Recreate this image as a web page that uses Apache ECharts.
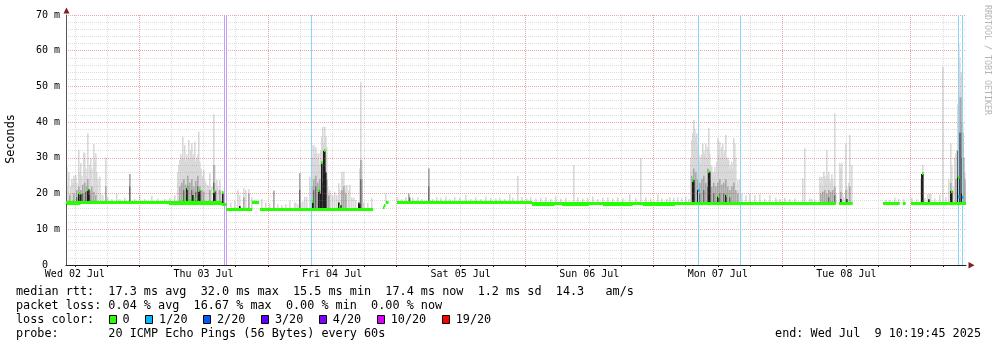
<!DOCTYPE html>
<html><head><meta charset="utf-8">
<script src="https://cdn.jsdelivr.net/npm/echarts@6/dist/echarts.min.js"></script>
<style>html,body{margin:0;padding:0;background:#fff}#c{width:997px;height:347px}</style>
</head><body><div id="c"></div>
<script>
// time unit: hours since Wed 02 Jul 2025 00:00 (local)
const START_H = 10.3292, END_H = 178.3292;   // Jul 2 10:19:45 .. Jul 9 10:19:45
const dayLabels = ['Wed 02 Jul','Thu 03 Jul','Fri 04 Jul','Sat 05 Jul','Sun 06 Jul','Mon 07 Jul','Tue 08 Jul'];
const dayLabelHours = [12,36,60,84,108,132,156];
const majorGridHours = [24,48,72,96,120,144,168];
const minorGridHours = [12,18,30,36,42,54,60,66,78,84,90,102,108,114,126,132,138,150,156,162,174];
const yMax = 70, yStep = 10;

const lossColors = ['#26ff00','#00b8ff','#0059ff','#5e00ff','#7e00ff','#dd00ff','#ff0000'];
const lossLabels = ['0','1/20','2/20','3/20','4/20','10/20','19/20'];
const lossLineColors = {1:'#88d6f8', 4:'#c29ef5'};

// median rtt segments [from h, to h, ms, loss level index]
const medianLine = [
 [10.33,39.45,17.4,0],[39.45,40.25,16.9,0],[40.25,45.14,15.6,0],[45.14,46.45,17.5,0],
 [46.45,67.58,15.5,0],[69.45,69.69,16.0,0],[69.69,69.97,16.6,0],[69.97,70.44,17.4,0],
 [72.06,97.26,17.4,0],[97.26,126.8,17.2,0],[126.8,154.01,17.3,0],[154.68,157.18,17.3,0],
 [162.89,166.01,17.3,0],[166.62,167.13,17.3,0],[168.01,178.33,17.3,0]
];
const medianExtra = [
 [10.5,13,17.1,0],[29.5,39.4,17.1,0],[97.3,101.5,17.0,0],[103,108,17.0,0],[110.5,116,17.0,0],[118,124,17.0,0],
 [127,137,17.1,0],[151.1,154.0,17.1,0],[154.7,157.2,17.1,0],[168.0,169.0,17.1,0],[175.3,178.3,17.1,0],
 [32.4,32.6,18.5,0],[33.3,33.5,18.2,0],[34.2,34.4,18.6,0],
 [12.81,13.0,19.9,0],[14.34,14.53,21.2,0],[32.86,33.05,21.5,0],[35.03,35.22,20.8,0],[37.86,38.05,20.5,0],
 [39.45,39.64,20.2,0],[56.34,56.53,17.8,0],[57.46,57.65,21.0,0],[58.02,58.21,28.6,0],[58.40,58.59,32.0,0],
 [61.2,61.4,16.5,0],[127.24,127.43,23.8,0],[128.21,128.40,21.0,1],[130.23,130.42,26.1,0],[131.95,132.14,19.1,0],
 [133.44,133.63,19.6,0],[170.06,170.25,25.5,0],[175.44,175.63,20.7,0],[176.79,176.98,24.4,0],
 [176.8,176.99,19.3,1],[177.6,177.79,18.8,1]
];

// smoke (ping spread) tops [h, ms]
const smokeLight = [
 [10.52,27.5],[10.70,22],[10.89,26],[11.08,20],[11.27,22],[11.45,24],[11.64,23],[11.82,25],[12.01,24],[12.20,25.2],[12.38,23],[12.66,32.2],[12.94,26],[13.13,28.5],[13.32,25],[13.60,31.5],[13.88,31.3],[14.06,27],[14.25,25],[14.49,36.9],[14.72,28],[14.90,30],[15.09,27],[15.43,33.9],[15.65,29],[15.93,31.3],[16.12,26],[16.30,24],[16.55,24.7],[16.86,20],[17.24,19.5],[17.80,30],[18.17,19],[18.92,18.5],[19.79,19.9],[20.41,18.5],[21.34,18.8],[22.28,25.5],[23.21,18.5],[24.14,19.6],[25.08,18.5],[26.33,19.3],[27.50,18.6],[28.81,18.5],[29.74,18.8],[30.68,19.5],
 [31.24,26],[31.43,28],[31.52,29.4],[31.80,31],[31.98,30],[32.11,35.9],[32.36,30],[32.54,33.6],[32.70,29],[32.82,31],[33.00,30],[33.16,35],[33.38,30],[33.57,32],[33.79,34.1],[33.95,30],[34.04,29],[34.22,31],[34.41,34.5],[34.55,29],[34.69,30],[34.85,31],[35.03,37.3],[35.25,29],[35.40,27],[35.53,26.6],[35.67,24],[35.81,25],[35.95,24],[36.09,26.6],[36.23,24],[36.37,23],[36.6,21],[36.84,22.4],[37.03,22],[37.21,25.7],[37.40,21],[37.58,22],[37.88,42.2],[38.14,28],[38.30,23],[38.46,23.8],[38.70,22],[38.90,21],[39.08,23.8],[39.25,21],[39.40,20.5],[39.64,19.5],
 [41.13,17.5],[41.88,18],[42.38,21],[42.81,19.6],[43.43,21.5],[43.93,21],[44.44,21.2],[44.99,19],[45.33,18.2],[45.61,18.2],[46.92,18.5],[47.66,17.5],[48.41,17.2],[49.16,20.8],[49.90,17],[50.65,16.8],[51.40,17],[52.14,18],[53.08,17.5],[53.64,17],
 [53.26,17.5],[54.20,17.5],[54.57,17.8],[54.94,19.1],[55.32,19],[55.75,24.7],[55.97,22],[56.19,33.6],[56.34,30],[56.53,33.6],[56.72,31],[56.90,33],[57.13,31.3],[57.37,30],[57.56,31.3],[57.74,28],[57.90,32],[58.06,35.9],[58.21,38.7],[58.40,34],[58.55,36],[58.68,38.7],[58.86,36],[59.05,33],[59.29,21.9],[59.52,21],[59.80,20],[60.17,19.5],[60.55,20.5],[60.92,19.5],[61.16,22.9],[61.48,21],[61.80,26.1],[62.04,24],[62.23,26.1],[62.41,22.4],[62.60,21],[62.78,22.4],[63.06,21],[63.34,22.4],[63.72,19],[64.09,18.8],[64.46,18.2],[65.12,27],[65.30,51.3],[65.58,29.4],[65.96,17.5],[66.70,17.5],[67.39,18.8],[70.01,20],
 [72.30,19],[73.05,18.5],[73.80,19],[75.11,18.8],[76.04,19],[76.79,18.5],[77.96,27.1],[78.84,18.5],[79.59,19],[80.33,18.8],[81.26,19.2],[82.01,18.5],[82.94,19],[83.88,18.8],[85.00,19.6],[85.93,18.5],[86.87,19],[87.80,18.5],[88.73,19.2],[89.67,18.8],[90.60,18.6],[91.34,19],[92.28,18.5],[93.08,19.8],[93.77,18.8],[94.58,24.9],[95.45,19],[96.38,18.6],[97.13,19],
 [98.06,18.6],[99.00,18.8],[99.93,19],[100.86,18.5],[101.80,19.2],[102.73,18.6],[103.67,18.8],[105.03,28],[105.91,19],[106.84,18.6],[107.77,18.8],[108.71,19.2],[109.64,18.5],[110.57,18.8],[111.51,19],[112.44,18.6],[113.37,19],[114.31,18.7],[115.48,19.8],[116.73,18.8],[117.67,29.9],[118.60,19],[119.54,18.6],[120.79,19.8],[121.59,18.7],[122.52,18.5],[123.08,19],[123.83,18.8],[124.57,19],[125.32,18.7],[126.06,19.1],[126.62,18.5],
 [126.99,30],[127.18,35],[127.32,37],[127.46,40.6],[127.60,39],[127.74,38],[127.88,36],[128.02,36.9],[128.16,34],[128.30,33],[128.44,31],[128.58,30.3],[128.72,29],[128.86,28],[129.00,31],[129.14,34],[129.28,30],[129.42,32],[129.56,31],[129.70,34],[129.84,29],[129.98,30],[130.12,33],[130.26,38.3],[130.40,32],[130.54,31],[130.68,28],[130.82,27.5],[130.96,26],[131.10,25],[131.24,26],[131.38,27.5],[131.52,25],[131.66,26],[131.80,29],[131.91,35.5],[132.02,30],[132.13,30],[132.27,31],[132.41,34.5],[132.57,30],[132.73,33],[132.85,31],[132.97,34],[133.11,30],[133.25,32],[133.39,29],[133.53,36.4],[133.67,30],[133.81,30],[133.95,27],[134.09,29.4],[134.23,27],[134.37,28],[134.51,26],[134.65,29],[134.79,27],[134.93,35.5],[135.07,31],[135.21,34],[135.40,30],[135.64,23.8],[135.96,21],[136.14,24],[136.52,20],[137.26,19.5],[138.01,20],[138.94,19.5],[139.88,19.8],[140.81,18.5],[141.75,19.6],[142.87,18.8],[143.61,18.5],[144.55,18.8],[145.48,18.5],[146.42,18.6],
 [147.90,24.3],[148.28,32.7],[149.21,18.7],[149.59,18.5],[150.15,18.3],[151.08,24.7],[151.27,23],[151.45,24.7],[151.58,22],[151.70,26.1],[151.92,25],[152.10,24],[152.33,32.2],[152.48,25],[152.63,26.1],[152.85,24],[153.05,23],[153.26,25.4],[153.40,22],[153.51,24],[153.75,42.5],[154.07,20],[154.81,28.5],[154.95,27],[155.09,28.5],[155.37,20],[155.60,19],[155.93,34],[156.10,22],[156.31,21],[156.50,23],[156.68,36.4],[157.00,28],
 [163.40,18.3],[164.15,18.2],[165.08,18.8],[165.83,18.5],[166.76,18.4],[168.25,18.8],[169.19,18.4],[169.93,24],[170.21,28],[170.68,18.8],[171.24,19.8],[171.61,20],[171.80,19.9],[172.55,18.6],[173.35,19.7],[174.04,55.5],[174.60,19],[175.16,24],[175.44,34],[175.72,28],[176.00,22],[176.28,30],[176.47,31.3],[176.66,32],[176.85,45],[177.03,62],[177.22,58],[177.41,53.7],[177.60,54],[177.78,40],[178.02,26],[178.25,22.9]
];
const smokeMid = [
 [11.08,19.5],[11.82,20],[12.38,21],[12.76,22],[13.13,21],[13.50,22.5],[13.88,23],[14.16,22],[14.44,24],[14.81,21],[15.18,22],[15.56,20.5],[15.93,19.5],[17.80,22],[22.28,25.5],
 [31.61,22],[31.98,23],[32.36,24],[32.73,22.5],[33.10,25],[33.48,23],[33.85,24],[34.22,22],[34.60,23.5],[34.97,25],[35.34,22],[35.72,21],[36.09,20.5],[37.21,21],[37.88,28],[38.33,21],[39.08,21],
 [43.43,19],[44.44,20],[49.16,20.8],
 [53.88,25.7],[56.25,22],[56.62,24],[57.00,25],[57.37,23],[57.74,24],[58.06,27],[58.30,28],[58.68,27],[59.05,24],[59.42,19.5],[61.85,21],[62.23,22],[62.60,20],[65.30,29.4],[65.49,24],
 [74.41,20],[77.96,27],
 [127.18,25],[127.56,27],[127.93,26],[128.30,24],[128.68,23],[129.05,24],[129.42,25],[129.80,23],[130.17,27],[130.54,24],[130.92,22],[131.29,23],[131.66,22],[132.04,23],[132.41,24],[132.78,22.5],[133.16,23],[133.53,24],[133.90,22],[134.28,21],[134.65,22],[135.02,23],[135.40,21],[135.77,20],
 [151.27,20],[151.64,20.5],[152.01,21],[152.39,20],[152.76,21],[153.13,20.5],[153.51,21],[153.75,22],[155.00,20.5],[155.93,21],[156.68,22],
 [170.12,22],[175.44,23],[176.37,24],[176.75,32],[177.03,47],[177.31,47],[177.50,40],[177.69,37],[177.87,30],[178.06,24]
];
const smokeDark = [
 [12.38,19],[13.50,20],[14.06,20.5],[14.81,19.5],[22.28,22],[32.36,21],[33.10,22],[33.85,21],[34.60,20.5],[34.97,22],[37.88,23],
 [53.88,21],[56.62,21],[57.00,22],[57.74,21],[58.30,23],[58.68,24],[65.30,24],[74.41,19],[77.96,22],
 [127.56,23],[128.68,20],[129.42,21],[130.17,22],[131.29,20],[132.41,20],[133.16,20],[134.28,19],[152.76,19],[153.75,19.5],
 [176.85,32],[177.13,37],[177.41,37],[177.60,30]
];
const smokeBlack = [
 [12.81,19.9],[13.00,19.9],[14.34,21.2],[14.53,21.2],[32.86,21.5],[33.98,19.6],[35.03,20.8],[35.22,20.8],[37.86,20.5],[38.05,20.5],[39.51,20.2],
 [42.85,16.5],[56.34,18],[57.46,21],[57.84,20],[58.02,28.6],[58.40,32.0],[58.58,32.0],[58.77,26],[61.20,17.5],[61.67,16.8],[64.93,17.5],[65.12,17],
 [127.24,23.8],[127.43,23.8],[128.21,21],[130.23,26.1],[130.42,26.1],[131.95,19.1],[133.44,19.6],[155.00,18.5],[156.03,18.5],
 [170.06,25.5],[170.25,25.5],[171.43,18.4],[175.44,20.7],[175.59,20.7],[176.79,24.4],[176.98,24.4],[177.50,20]
];
// packet loss events [h, loss level index]
const lossEvents = [[39.82,4],[40.20,4],[56.06,1],[128.40,1],[136.24,1],[176.90,1],[177.65,1]];

const statsRtt = 'median rtt:  17.3 ms avg  32.0 ms max  15.5 ms min  17.4 ms now  1.2 ms sd  14.3   am/s';
const statsLoss = 'packet loss: 0.04 % avg  16.67 % max  0.00 % min  0.00 % now';
const lossTitle = 'loss color:';
const probeText = 'probe:       20 ICMP Echo Pings (56 Bytes) every 60s';
const endText = 'end: Wed Jul  9 10:19:45 2025';
const yTitle = 'Seconds';
const watermark = 'RRDTOOL / TOBI OETIKER';

function baseAt(t){
  let best = medianLine[0][2], bd = 1e9;
  for (const s of medianLine){
    if (t >= s[0] && t <= s[1]) return s[2];
    const d = Math.min(Math.abs(t-s[0]), Math.abs(t-s[1]));
    if (d < bd){ bd = d; best = s[2]; }
  }
  return best;
}
function smokeRender(color, wH){
  return function(params, api){
    const t = api.value(0), hi = api.value(1), lo = baseAt(t);
    const a = api.coord([t, hi]), b = api.coord([t, lo]);
    const w = Math.max(1, api.size([wH, 0])[0]);
    return {type:'rect', shape:{x:Math.round(a[0]-w/2), y:a[1], width:w, height:Math.max(1,b[1]-a[1])}, style:{fill:color}};
  };
}
function medianRender(params, api){
  const p0 = api.coord([api.value(0), api.value(2)]);
  const p1 = api.coord([api.value(1), api.value(2)]);
  return {type:'rect', shape:{x:Math.round(p0[0]), y:Math.round(p0[1]-1.5), width:Math.max(1.5, p1[0]-p0[0]), height:3}, style:{fill:lossColors[api.value(3)]}};
}

const MONO = '"DejaVu Sans Mono", monospace';
const gridDash = [1,1];
const graphics = [];
const lineY = [291.5, 305.5, 319.5, 333.5];
const F = '11.8px ' + MONO;
graphics.push({type:'text', x:16, y:lineY[0], style:{text:statsRtt, font:F, fill:'#000', verticalAlign:'middle'}});
graphics.push({type:'text', x:16, y:lineY[1], style:{text:statsLoss, font:F, fill:'#000', verticalAlign:'middle'}});
graphics.push({type:'text', x:16, y:lineY[2], style:{text:lossTitle, font:F, fill:'#000', verticalAlign:'middle'}});
graphics.push({type:'text', x:16, y:lineY[3], style:{text:probeText, font:F, fill:'#000', verticalAlign:'middle'}});
graphics.push({type:'text', x:981, y:lineY[3], style:{text:endText, font:F, fill:'#000', align:'right', verticalAlign:'middle'}});
let bx = 108.5; const CH = 7.1;
lossLabels.forEach((lab, i) => {
  graphics.push({type:'rect', shape:{x:Math.round(bx)+0.5, y:315.5, width:7, height:8}, style:{fill:lossColors[i], stroke:'#000', lineWidth:1}});
  const lx = bx + 14;
  graphics.push({type:'text', x:lx, y:lineY[2], style:{text:lab, font:F, fill:'#000', verticalAlign:'middle'}});
  bx = lx + lab.length*CH + 15.5;
});
graphics.push({type:'text', x:11, y:139, rotation:Math.PI/2, style:{text:yTitle, font:F, fill:'#000', align:'center', verticalAlign:'middle'}});
graphics.push({type:'text', x:987.5, y:60, rotation:-Math.PI/2, style:{text:watermark, font:'8.3px '+MONO, fill:'#b4b4b4', align:'center', verticalAlign:'middle'}});
graphics.push({type:'polygon', shape:{points:[[63.5,13.5],[69.5,13.5],[66.5,7.5]]}, style:{fill:'#7f1f1f'}});
graphics.push({type:'polygon', shape:{points:[[968.5,262],[968.5,268.5],[974.5,265.2]]}, style:{fill:'#7f1f1f'}});

const minorGridColor = 'rgba(128,128,128,0.28)';
const majorGridColor = 'rgba(222,79,79,0.5)';

const chart = echarts.init(document.getElementById('c'), null, {renderer:'canvas', width:997, height:347});
chart.setOption({
  animation:false,
  backgroundColor:'#ffffff',
  grid:{left:66, top:15, width:900, height:250, containLabel:false},
  xAxis:[{
    type:'value', min:START_H, max:END_H, position:'bottom', z:3,
    axisLine:{show:true, onZero:false, lineStyle:{color:'#1f1f1f', width:1}},
    axisTick:{show:true, length:2, inside:false, customValues:minorGridHours.concat(majorGridHours), lineStyle:{color:'#1f1f1f'}},
    axisLabel:{show:true, customValues:dayLabelHours, margin:4, color:'#000', fontFamily:MONO, fontSize:10,
      formatter:(v)=>{const i=dayLabelHours.indexOf(Math.round(v)); return i>=0?dayLabels[i]:'';}},
    splitLine:{show:false}
  },{
    type:'value', min:START_H, max:END_H, position:'bottom', z:3,
    axisLine:{show:false}, axisLabel:{show:false},
    axisTick:{show:false, customValues:minorGridHours},
    splitLine:{show:true, lineStyle:{color:minorGridColor, width:1, type:gridDash}}
  },{
    type:'value', min:START_H, max:END_H, position:'bottom', z:3,
    axisLine:{show:false}, axisLabel:{show:false},
    axisTick:{show:false, customValues:majorGridHours},
    splitLine:{show:true, lineStyle:{color:majorGridColor, width:1, type:gridDash}}
  }],
  yAxis:{
    type:'value', min:0, max:yMax, interval:yStep, z:3,
    axisLine:{show:true, onZero:false, lineStyle:{color:'#555', width:1}},
    axisTick:{show:false},
    axisLabel:{color:'#000', fontFamily:MONO, fontSize:10, margin:6, formatter:(v)=> v===0 ? '0  ' : v+' m'},
    splitLine:{show:true, lineStyle:{color:majorGridColor, width:1, type:gridDash}},
    minorTick:{show:false, splitNumber:5},
    minorSplitLine:{show:true, lineStyle:{color:minorGridColor, width:1, type:gridDash}}
  },
  graphic:{elements:graphics},
  series:[
    {type:'custom', name:'smoke', z:1, clip:true, renderItem:smokeRender('#d9d9d9',0.3), data:smokeLight, encode:{x:0,y:1}},
    {type:'custom', name:'smoke2', z:1, clip:true, renderItem:smokeRender('#a9a9a9',0.3), data:smokeMid, encode:{x:0,y:1}},
    {type:'custom', name:'smoke3', z:1, clip:true, renderItem:smokeRender('#6a6a6a',0.25), data:smokeDark, encode:{x:0,y:1}},
    {type:'custom', name:'smoke4', z:1, clip:true, renderItem:smokeRender('#1e1e1e',0.3), data:smokeBlack, encode:{x:0,y:1},
      markLine:{silent:true, symbol:['none','none'], animation:false, label:{show:false}, z:4,
        data: lossEvents.map(e => ({xAxis:e[0], lineStyle:{color:lossLineColors[e[1]], width:1, type:'solid'}}))}},
    {type:'custom', name:'median', z:5, clip:true, renderItem:medianRender, data:medianLine, encode:{x:[0,1],y:2}},
    {type:'custom', name:'median2', z:5, clip:true, renderItem:medianRender, data:medianExtra, encode:{x:[0,1],y:2}}
  ]
});
</script>
</body></html>
